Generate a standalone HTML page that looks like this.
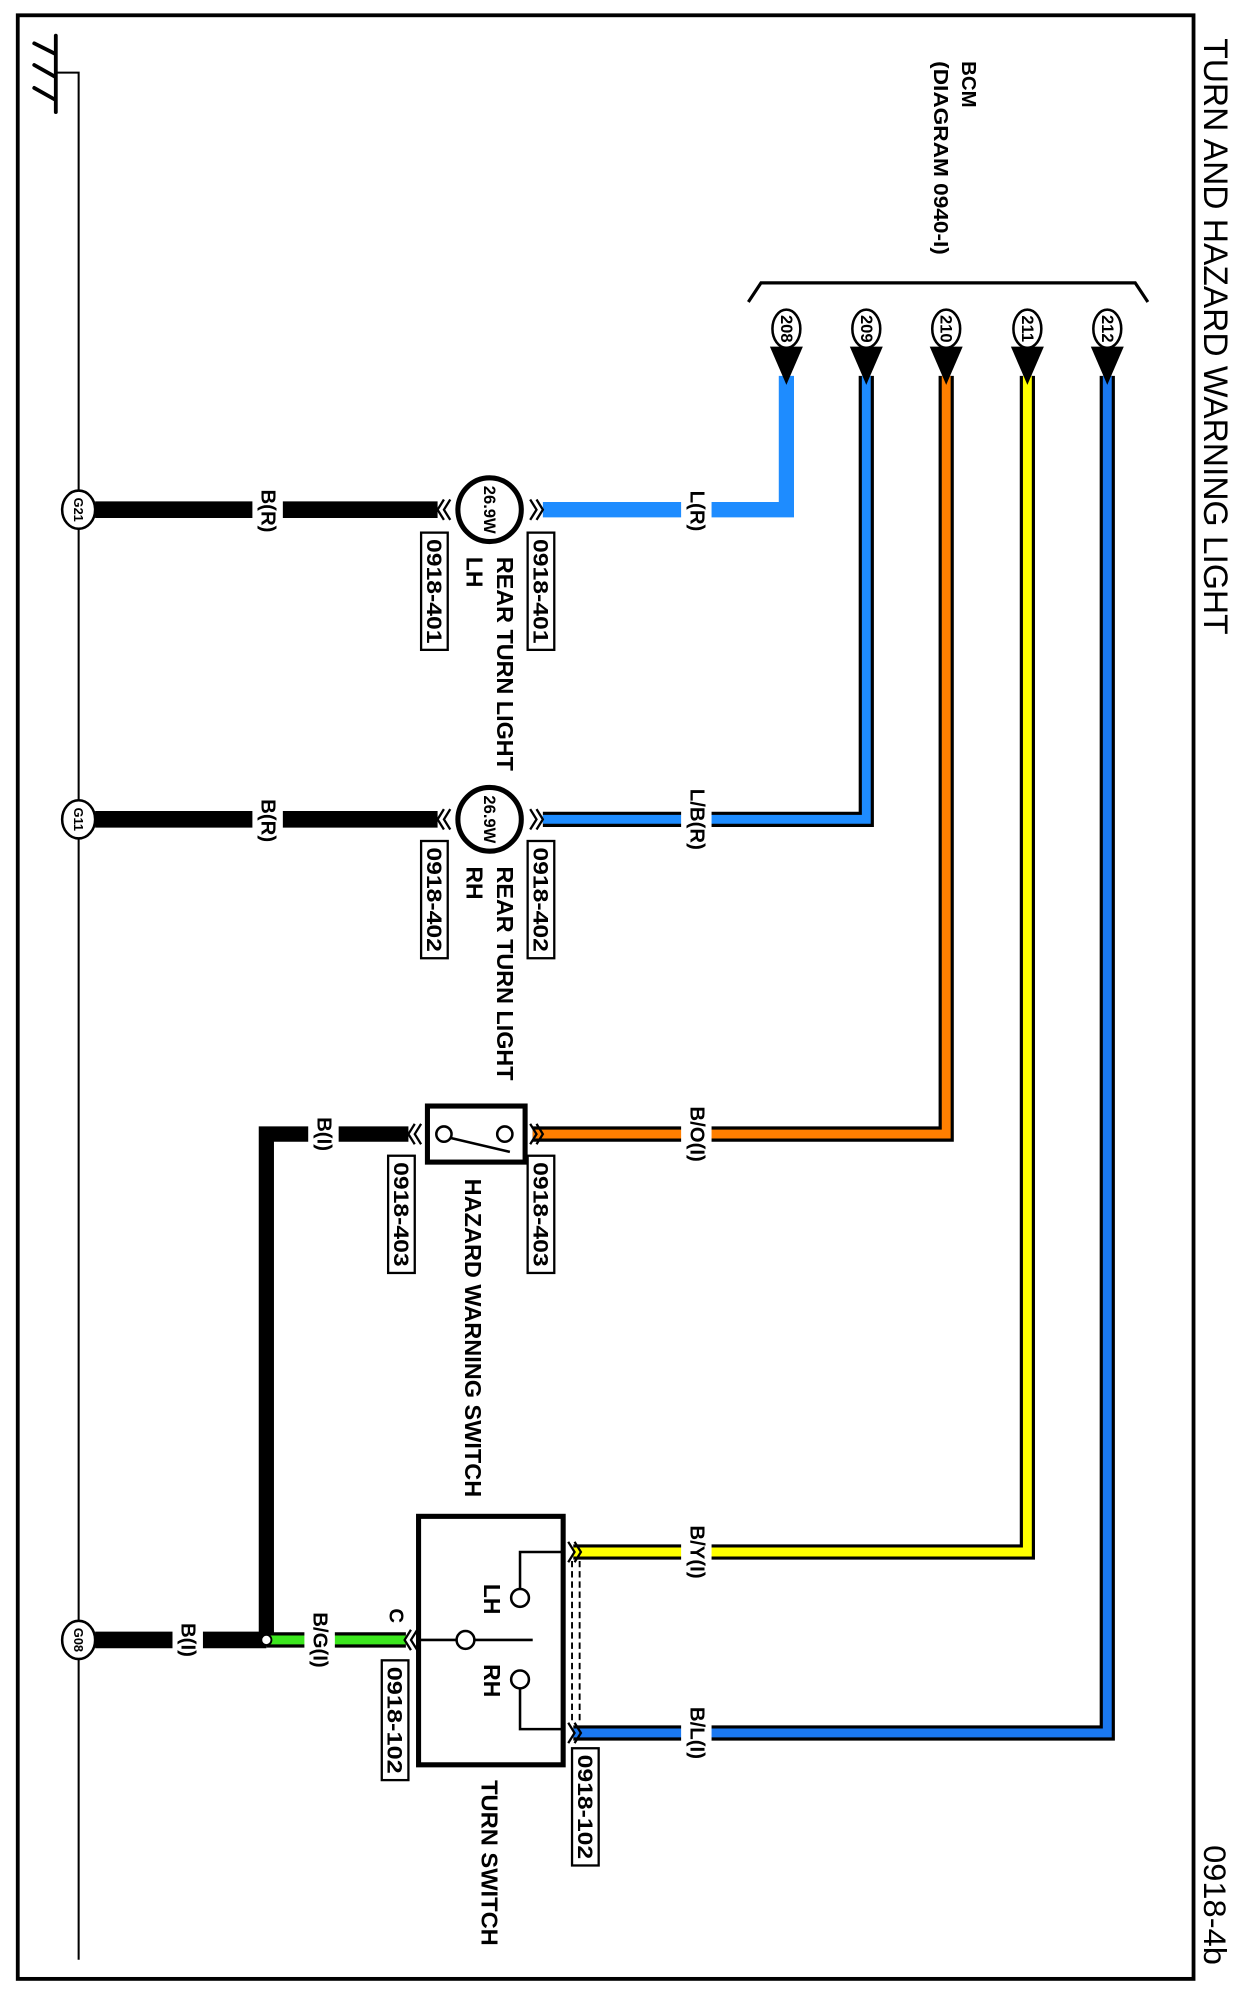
<!DOCTYPE html>
<html><head><meta charset="utf-8"><style>
html,body{margin:0;padding:0;background:#fff;}
svg{display:block;}
text{font-family:"Liberation Sans",Arial,sans-serif;fill:#000;}
</style></head><body>
<svg width="1243" height="1998" viewBox="0 0 980 1568" preserveAspectRatio="none" xmlns="http://www.w3.org/2000/svg">
<rect x="0" y="0" width="980" height="1568" fill="#fff"/>
<rect x="14" y="12" width="927" height="1541" fill="none" stroke="#000" stroke-width="3"/>
<!-- title -->
<text transform="translate(958,30) rotate(90)" dominant-baseline="central" font-size="27" textLength="468" lengthAdjust="spacingAndGlyphs">TURN AND HAZARD WARNING LIGHT</text>
<text transform="translate(958,1448) rotate(90)" dominant-baseline="central" font-size="25" textLength="94" lengthAdjust="spacingAndGlyphs">0918-4b</text>
<!-- ground -->
<polyline points="44,57 62,57 62,1538" fill="none" stroke="#000" stroke-width="1.6"/>
<g stroke="#000" stroke-width="3" fill="none" stroke-linecap="round">
<line x1="44" y1="28" x2="44" y2="88"/>
<line x1="27" y1="34" x2="43" y2="42"/>
<line x1="27" y1="51" x2="43" y2="60"/>
<line x1="27" y1="69" x2="43" y2="78"/>
</g>
<!-- BCM -->
<text transform="translate(763,48) rotate(90)" dominant-baseline="central" font-size="16" font-weight="bold">BCM</text>
<text transform="translate(741,48) rotate(90)" dominant-baseline="central" font-size="16" font-weight="bold" textLength="152" lengthAdjust="spacingAndGlyphs">(DIAGRAM 0940-I)</text>
<polyline points="590,237 600,222 895,222 905,237" fill="none" stroke="#000" stroke-width="2.5"/>
<!-- wires -->
<g fill="none" stroke-linejoin="miter">
<polyline points="620,295 620,400 428,400" stroke="#1E8CFF" stroke-width="12"/>
<polyline points="683,295 683,643 428,643" stroke="#000" stroke-width="12"/>
<polyline points="683,295 683,643 428,643" stroke="#1E8CFF" stroke-width="7"/>
<polyline points="746,295 746,890 420,890" stroke="#000" stroke-width="12"/>
<polyline points="746,295 746,890 420,890" stroke="#FF7F00" stroke-width="7"/>
<polyline points="810,295 810,1218 452,1218" stroke="#000" stroke-width="12"/>
<polyline points="810,295 810,1218 452,1218" stroke="#FFFF00" stroke-width="7"/>
<polyline points="873,295 873,1360 452,1360" stroke="#000" stroke-width="12"/>
<polyline points="873,295 873,1360 452,1360" stroke="#1A78F0" stroke-width="7"/>
<line x1="75" y1="400" x2="345" y2="400" stroke="#000" stroke-width="13"/>
<line x1="75" y1="643" x2="345" y2="643" stroke="#000" stroke-width="13"/>
<polyline points="322,890 210,890 210,1287" stroke="#000" stroke-width="12"/>
<line x1="75" y1="1287" x2="210" y2="1287" stroke="#000" stroke-width="13"/>
<line x1="210" y1="1287" x2="320" y2="1287" stroke="#000" stroke-width="12"/>
<line x1="210" y1="1287" x2="320" y2="1287" stroke="#3CE61E" stroke-width="7"/>
</g>
<circle cx="210" cy="1287" r="4" fill="#fff" stroke="#000" stroke-width="1.5"/>
<!-- pins -->
<g font-size="13" font-weight="bold">
<g><ellipse cx="620" cy="258" rx="11" ry="15" fill="#fff" stroke="#000" stroke-width="2"/><text transform="translate(620,258) rotate(90)" text-anchor="middle" dominant-baseline="central">208</text><polygon points="607,272 633,272 620,302" fill="#000"/></g>
<g><ellipse cx="683" cy="258" rx="11" ry="15" fill="#fff" stroke="#000" stroke-width="2"/><text transform="translate(683,258) rotate(90)" text-anchor="middle" dominant-baseline="central">209</text><polygon points="670,272 696,272 683,302" fill="#000"/></g>
<g><ellipse cx="746" cy="258" rx="11" ry="15" fill="#fff" stroke="#000" stroke-width="2"/><text transform="translate(746,258) rotate(90)" text-anchor="middle" dominant-baseline="central">210</text><polygon points="733,272 759,272 746,302" fill="#000"/></g>
<g><ellipse cx="810" cy="258" rx="11" ry="15" fill="#fff" stroke="#000" stroke-width="2"/><text transform="translate(810,258) rotate(90)" text-anchor="middle" dominant-baseline="central">211</text><polygon points="797,272 823,272 810,302" fill="#000"/></g>
<g><ellipse cx="873" cy="258" rx="11" ry="15" fill="#fff" stroke="#000" stroke-width="2"/><text transform="translate(873,258) rotate(90)" text-anchor="middle" dominant-baseline="central">212</text><polygon points="860,272 886,272 873,302" fill="#000"/></g>
</g>
<!-- ground circles -->
<g font-size="10" font-weight="bold">
<ellipse cx="62" cy="400" rx="13" ry="15" fill="#fff" stroke="#000" stroke-width="2"/><text transform="translate(62,400) rotate(90)" text-anchor="middle" dominant-baseline="central">G21</text>
<ellipse cx="62" cy="643" rx="13" ry="15" fill="#fff" stroke="#000" stroke-width="2"/><text transform="translate(62,643) rotate(90)" text-anchor="middle" dominant-baseline="central">G11</text>
<ellipse cx="62" cy="1287" rx="13" ry="15" fill="#fff" stroke="#000" stroke-width="2"/><text transform="translate(62,1287) rotate(90)" text-anchor="middle" dominant-baseline="central">G08</text>
</g>
<!-- wire labels -->
<g font-size="16" font-weight="bold">
<rect x="199" y="383" width="24" height="36" fill="#fff"/><text transform="translate(211,401) rotate(90)" text-anchor="middle" dominant-baseline="central">B(R)</text>
<rect x="537" y="383" width="24" height="36" fill="#fff"/><text transform="translate(549,401) rotate(90)" text-anchor="middle" dominant-baseline="central">L(R)</text>
<rect x="199" y="626" width="24" height="36" fill="#fff"/><text transform="translate(211,644) rotate(90)" text-anchor="middle" dominant-baseline="central">B(R)</text>
<rect x="537" y="613" width="24" height="60" fill="#fff"/><text transform="translate(549,643) rotate(90)" text-anchor="middle" dominant-baseline="central">L/B(R)</text>
<rect x="537" y="860" width="24" height="60" fill="#fff"/><text transform="translate(549,890) rotate(90)" text-anchor="middle" dominant-baseline="central">B/O(I)</text>
<rect x="537" y="1188" width="24" height="60" fill="#fff"/><text transform="translate(549,1218) rotate(90)" text-anchor="middle" dominant-baseline="central">B/Y(I)</text>
<rect x="537" y="1331" width="24" height="58" fill="#fff"/><text transform="translate(549,1360) rotate(90)" text-anchor="middle" dominant-baseline="central">B/L(I)</text>
<rect x="243" y="875" width="24" height="30" fill="#fff"/><text transform="translate(255,890) rotate(90)" text-anchor="middle" dominant-baseline="central">B(I)</text>
<rect x="240" y="1260" width="24" height="54" fill="#fff"/><text transform="translate(252,1287) rotate(90)" text-anchor="middle" dominant-baseline="central">B/G(I)</text>
<rect x="136" y="1272" width="24" height="30" fill="#fff"/><text transform="translate(148,1287) rotate(90)" text-anchor="middle" dominant-baseline="central">B(I)</text>
<text transform="translate(312,1268) rotate(90)" text-anchor="middle" dominant-baseline="central">C</text>
</g>
<!-- chevron connectors -->
<g fill="none" stroke="#000" stroke-width="1.8">
<polyline points="350,392 345,400 350,408"/><polyline points="355,392 350,400 355,408"/>
<polyline points="418,392 423,400 418,408"/><polyline points="423,392 428,400 423,408"/>
<polyline points="350,635 345,643 350,651"/><polyline points="355,635 350,643 355,651"/>
<polyline points="418,635 423,643 418,651"/><polyline points="423,635 428,643 423,651"/>
<polyline points="327,882 322,890 327,898"/><polyline points="332,882 327,890 332,898"/>
<polyline points="418,882 423,890 418,898"/><polyline points="423,882 428,890 423,898"/>
<polyline points="324,1279 319,1287 324,1295"/><polyline points="329,1279 324,1287 329,1295"/>
<polyline points="448,1210 453,1218 448,1226"/><polyline points="453,1210 458,1218 453,1226"/>
<polyline points="448,1352 453,1360 448,1368"/><polyline points="453,1352 458,1360 453,1368"/>
</g>
<!-- lamps -->
<circle cx="386" cy="400" r="25" fill="#fff" stroke="#000" stroke-width="4"/>
<text transform="translate(386,400) rotate(90)" text-anchor="middle" dominant-baseline="central" font-size="13" font-weight="bold">26.9W</text>
<circle cx="386" cy="643" r="25" fill="#fff" stroke="#000" stroke-width="4"/>
<text transform="translate(386,643) rotate(90)" text-anchor="middle" dominant-baseline="central" font-size="13" font-weight="bold">26.9W</text>
<!-- hazard switch -->
<rect x="337" y="868" width="77" height="44" fill="#fff" stroke="#000" stroke-width="4"/>
<circle cx="350" cy="890" r="6" fill="#fff" stroke="#000" stroke-width="2"/>
<circle cx="398" cy="890" r="6" fill="#fff" stroke="#000" stroke-width="2"/>
<line x1="355" y1="893" x2="402" y2="904" stroke="#000" stroke-width="2"/>
<!-- turn switch -->
<rect x="330" y="1190" width="114" height="195" fill="#fff" stroke="#000" stroke-width="4"/>
<g fill="none" stroke="#000" stroke-width="2">
<polyline points="444,1218 410,1218 410,1247"/>
<circle cx="410" cy="1254" r="7" fill="#fff"/>
<line x1="330" y1="1287" x2="420" y2="1287"/>
<circle cx="367" cy="1287" r="7" fill="#fff"/>
<circle cx="410" cy="1318" r="7" fill="#fff"/>
<polyline points="410,1325 410,1357 444,1357"/>
<line x1="451" y1="1225" x2="451" y2="1352" stroke-dasharray="5,3" stroke-width="1.5"/>
<line x1="457" y1="1225" x2="457" y2="1352" stroke-dasharray="5,3" stroke-width="1.5"/>
</g>
<g font-size="18" font-weight="bold">
<text transform="translate(388,1243) rotate(90)" dominant-baseline="central">LH</text>
<text transform="translate(388,1306) rotate(90)" dominant-baseline="central">RH</text>
</g>
<!-- component labels -->
<g font-size="18" font-weight="bold">
<text transform="translate(398,437) rotate(90)" dominant-baseline="central" textLength="168" lengthAdjust="spacingAndGlyphs">REAR TURN LIGHT</text>
<text transform="translate(374,437) rotate(90)" dominant-baseline="central">LH</text>
<text transform="translate(398,680) rotate(90)" dominant-baseline="central" textLength="168" lengthAdjust="spacingAndGlyphs">REAR TURN LIGHT</text>
<text transform="translate(374,680) rotate(90)" dominant-baseline="central">RH</text>
<text transform="translate(373,925) rotate(90)" dominant-baseline="central" textLength="250" lengthAdjust="spacingAndGlyphs">HAZARD WARNING SWITCH</text>
<text transform="translate(386,1397) rotate(90)" dominant-baseline="central" textLength="130" lengthAdjust="spacingAndGlyphs">TURN SWITCH</text>
</g>
<!-- connector boxes -->
<g font-size="17" font-weight="bold">
<rect x="416" y="418" width="21" height="92" fill="#fff" stroke="#000" stroke-width="1.8"/><text transform="translate(426.5,464) rotate(90)" text-anchor="middle" dominant-baseline="central" textLength="82" lengthAdjust="spacingAndGlyphs">0918-401</text>
<rect x="332" y="418" width="21" height="92" fill="#fff" stroke="#000" stroke-width="1.8"/><text transform="translate(342.5,464) rotate(90)" text-anchor="middle" dominant-baseline="central" textLength="82" lengthAdjust="spacingAndGlyphs">0918-401</text>
<rect x="416" y="660" width="21" height="92" fill="#fff" stroke="#000" stroke-width="1.8"/><text transform="translate(426.5,706) rotate(90)" text-anchor="middle" dominant-baseline="central" textLength="82" lengthAdjust="spacingAndGlyphs">0918-402</text>
<rect x="332" y="660" width="21" height="92" fill="#fff" stroke="#000" stroke-width="1.8"/><text transform="translate(342.5,706) rotate(90)" text-anchor="middle" dominant-baseline="central" textLength="82" lengthAdjust="spacingAndGlyphs">0918-402</text>
<rect x="416" y="907" width="21" height="92" fill="#fff" stroke="#000" stroke-width="1.8"/><text transform="translate(426.5,953) rotate(90)" text-anchor="middle" dominant-baseline="central" textLength="82" lengthAdjust="spacingAndGlyphs">0918-403</text>
<rect x="306" y="907" width="21" height="92" fill="#fff" stroke="#000" stroke-width="1.8"/><text transform="translate(316.5,953) rotate(90)" text-anchor="middle" dominant-baseline="central" textLength="82" lengthAdjust="spacingAndGlyphs">0918-403</text>
<rect x="301" y="1303" width="21" height="94" fill="#fff" stroke="#000" stroke-width="1.8"/><text transform="translate(311.5,1350) rotate(90)" text-anchor="middle" dominant-baseline="central" textLength="84" lengthAdjust="spacingAndGlyphs">0918-102</text>
<rect x="451" y="1372" width="21" height="92" fill="#fff" stroke="#000" stroke-width="1.8"/><text transform="translate(461.5,1418) rotate(90)" text-anchor="middle" dominant-baseline="central" textLength="82" lengthAdjust="spacingAndGlyphs">0918-102</text>
</g>
</svg>
</body></html>
